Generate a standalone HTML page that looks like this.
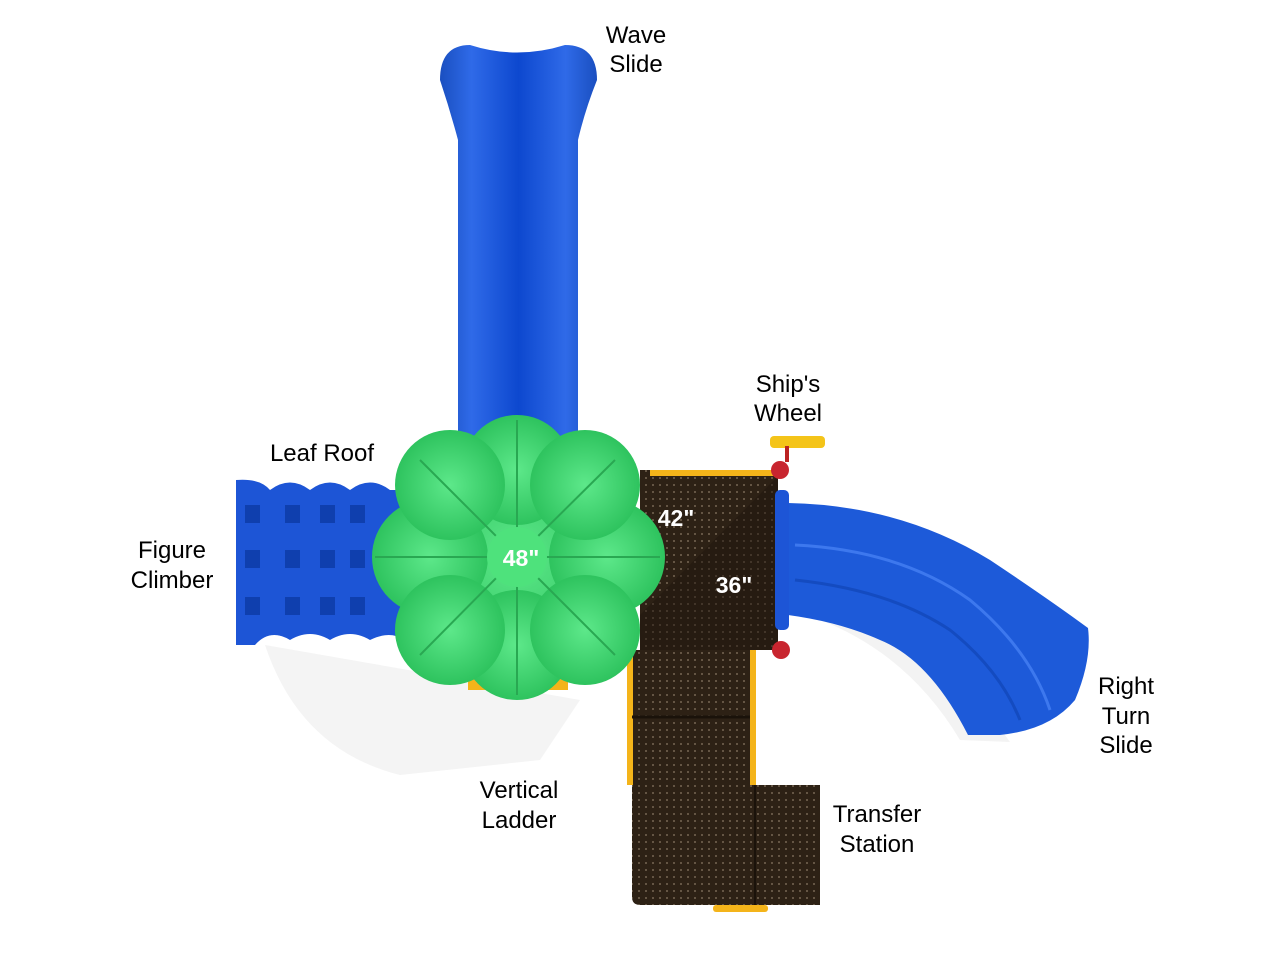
<!DOCTYPE html>
<html><head><style>
body{margin:0;background:#fff;width:1279px;height:960px;overflow:hidden}
svg{display:block}
text{font-family:"Liberation Sans",sans-serif}
</style></head><body>
<svg width="1279" height="960" viewBox="0 0 1279 960">
<defs>
<pattern id="dots" width="7" height="7" patternUnits="userSpaceOnUse"><circle cx="2" cy="2" r="0.9" fill="#8a7a66"/></pattern>
<linearGradient id="blueV" x1="0" x2="1"><stop offset="0" stop-color="#1a4fc0"/><stop offset="0.2" stop-color="#2f6ae8"/><stop offset="0.5" stop-color="#0d48cf"/><stop offset="0.8" stop-color="#2f6ae8"/><stop offset="1" stop-color="#1a4fc0"/></linearGradient>
<radialGradient id="green" cx="0.5" cy="0.5" r="0.5"><stop offset="0" stop-color="#5de88a"/><stop offset="1" stop-color="#2ec35e"/></radialGradient>
</defs>
<!-- shadows -->
<path d="M265 645 Q300 750 400 775 L540 760 L580 700 Z" fill="#f4f4f4"/>
<path d="M790 610 Q900 640 960 740 L1010 742 Q930 630 790 600 Z" fill="#f3f3f3"/>
<!-- wave slide -->
<path d="M440 80 Q440 45 470 45 Q517 60 565 45 Q597 45 597 80 Q585 110 578 140 L578 450 L458 450 L458 140 Q450 110 440 80 Z" fill="url(#blueV)"/>
<!-- figure climber -->
<path d="M236 480 Q260 478 270 490 Q290 475 310 490 Q330 475 350 490 Q370 475 390 490 L405 490 L405 640 Q390 630 370 640 Q350 628 330 640 Q310 628 290 640 Q270 628 255 645 L236 645 Z" fill="#1d55d6"/>
<g fill="#0f3fae">
<path d="M245 505h15v18h-15z M285 505h15v18h-15z M320 505h15v18h-15z M350 505h15v18h-15z M245 550h15v18h-15z M285 550h15v18h-15z M320 550h15v18h-15z M350 550h15v18h-15z M245 597h15v18h-15z M285 597h15v18h-15z M320 597h15v18h-15z M350 597h15v18h-15z"/>
</g>
<!-- deck -->
<rect x="468" y="675" width="100" height="15" fill="#f4b41a"/>
<path d="M640 470 L778 470 L778 650 L755 650 L755 785 L820 785 L820 905 L640 905 Q632 905 632 897 L632 785 L627 785 L627 650 L640 650 Z" fill="#2d2115"/>
<path d="M640 470 L778 470 L778 650 L755 650 L755 785 L820 785 L820 905 L640 905 Q632 905 632 897 L632 785 L627 785 L627 650 L640 650 Z" fill="url(#dots)"/>
<path d="M650 470 L778 470 L778 476 L650 476 Z" fill="#f4b41a"/>
<path d="M627 650 L633 650 L633 785 L627 785 Z M750 650 L756 650 L756 785 L750 785 Z" fill="#f4b41a"/>
<path d="M778 476 L640 615 L640 650 L778 650 Z" fill="#1f160d" opacity="0.5"/>
<line x1="632" y1="717" x2="750" y2="717" stroke="#1a120a" stroke-width="3"/>
<line x1="755" y1="785" x2="755" y2="905" stroke="#1a120a" stroke-width="2"/>
<rect x="713" y="905" width="55" height="7" rx="3" fill="#f4b41a"/>
<!-- right turn slide -->
<path d="M788 503 Q900 505 990 560 Q1050 600 1088 628 Q1092 660 1075 700 Q1050 730 1000 735 L968 735 Q930 660 880 640 Q840 622 788 615 Z" fill="#1d5ad9"/>
<path d="M795 545 Q900 550 970 600 Q1030 650 1050 710" fill="none" stroke="#3d78ee" stroke-width="3"/>
<path d="M795 580 Q890 590 950 630 Q1000 670 1020 720" fill="none" stroke="#144bc0" stroke-width="3"/>
<rect x="775" y="490" width="14" height="140" rx="5" fill="#1d55d6"/>
<!-- ship's wheel -->
<rect x="770" y="436" width="55" height="12" rx="4" fill="#f4c419"/>
<rect x="785" y="446" width="4" height="16" fill="#b22"/>
<circle cx="780" cy="470" r="9" fill="#c8252f"/>
<circle cx="781" cy="650" r="9" fill="#c8252f"/>
<!-- leaf roof -->
<g fill="url(#green)">
<circle cx="517" cy="557" r="110"/>
<circle cx="517" cy="470" r="55"/><circle cx="517" cy="645" r="55"/>
<circle cx="430" cy="557" r="58"/><circle cx="607" cy="557" r="58"/>
<circle cx="450" cy="485" r="55"/><circle cx="585" cy="485" r="55"/>
<circle cx="450" cy="630" r="55"/><circle cx="585" cy="630" r="55"/>
</g>
<g stroke="#29a852" stroke-width="2" fill="none">
<line x1="517" y1="557" x2="517" y2="420"/><line x1="517" y1="557" x2="517" y2="695"/>
<line x1="517" y1="557" x2="375" y2="557"/><line x1="517" y1="557" x2="660" y2="557"/>
<line x1="517" y1="557" x2="420" y2="460"/><line x1="517" y1="557" x2="615" y2="460"/>
<line x1="517" y1="557" x2="420" y2="655"/><line x1="517" y1="557" x2="615" y2="655"/>
</g>
<circle cx="517" cy="557" r="30" fill="#4ee27c"/>
<g fill="#fff" font-weight="bold" font-size="23" text-anchor="middle">
<text x="521" y="566">48"</text><text x="676" y="526">42"</text><text x="734" y="593">36"</text>
</g>
<g fill="#000" font-size="24" text-anchor="middle">
<text x="636" y="43">Wave</text><text x="636" y="72">Slide</text>
<text x="788" y="392">Ship's</text><text x="788" y="421">Wheel</text>
<text x="322" y="461">Leaf Roof</text>
<text x="172" y="558">Figure</text><text x="172" y="588">Climber</text>
<text x="1126" y="694">Right</text><text x="1126" y="724">Turn</text><text x="1126" y="753">Slide</text>
<text x="519" y="798">Vertical</text><text x="519" y="828">Ladder</text>
<text x="877" y="822">Transfer</text><text x="877" y="852">Station</text>
</g>
</svg>
</body></html>
